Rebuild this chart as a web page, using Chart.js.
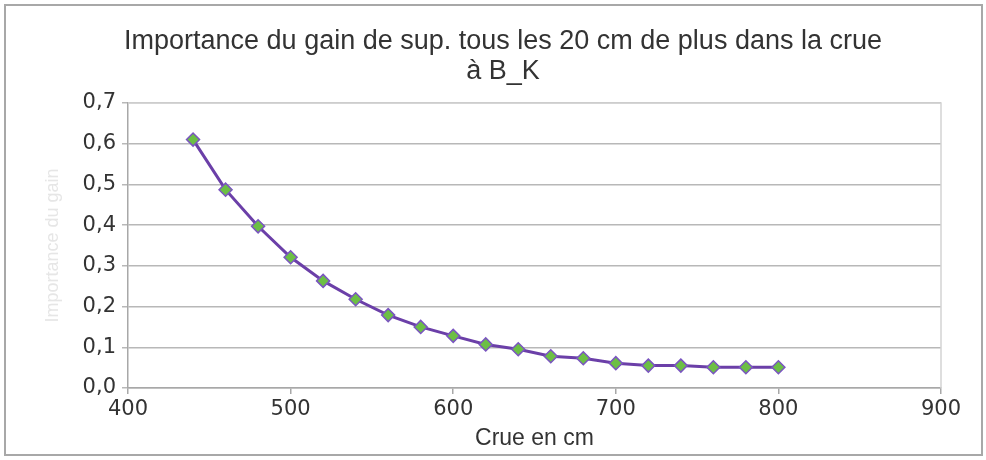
<!DOCTYPE html>
<html>
<head>
<meta charset="utf-8">
<script src="https://cdn.jsdelivr.net/npm/chart.js@4/dist/chart.umd.min.js"></script>
<style>
    html, body { margin: 0; padding: 0; background: #fff; }
    #wrap { width: 986px; height: 460px; position: relative; }
</style>
</head>
<body>
<div id="wrap"><canvas id="myChart" width="986" height="460"></canvas></div>
<script>
// crue (cm) et importance du gain
var crue = [440, 460, 480, 500, 520, 540, 560, 580, 600, 620, 640, 660, 680, 700, 720, 740, 760, 780, 800];
var gain = [0.61, 0.487, 0.397, 0.321, 0.263, 0.218, 0.179, 0.15, 0.128, 0.107, 0.095, 0.078, 0.073, 0.061, 0.055, 0.055, 0.051, 0.051, 0.051];

var titleLines = ['Importance du gain de sup. tous les 20 cm de plus dans la crue', 'à B_K'];
var xTitle = 'Crue en cm';
var yTitle = 'Importance du gain';

var points = [];
for (var i = 0; i < crue.length; i++) {
    points.push({ x: crue[i], y: gain[i] });
}

var frame = {
    id: 'frame',
    afterLayout: function(chart) {
        // titre un peu décalé à droite comme dans Excel
        if (chart.titleBlock) {
            chart.titleBlock.left += 23;
        }
    },
    beforeDraw: function(chart) {
        var c = chart.ctx;
        c.save();
        c.fillStyle = '#fff';
        c.fillRect(0, 0, chart.width, chart.height);
        c.strokeStyle = '#a8a8a8';
        c.lineWidth = 2;
        c.strokeRect(5, 5, 977, 450);
        c.restore();
    },
    beforeDatasetsDraw: function(chart) {
        var a = chart.chartArea;
        var c = chart.ctx;
        c.save();
        c.strokeStyle = '#d4d4d4';
        c.lineWidth = 1.5;
        c.beginPath();
        c.moveTo(a.left, a.top);
        c.lineTo(a.right, a.top);
        c.lineTo(a.right, a.bottom);
        c.stroke();
        c.restore();
    }
};

var ctx = document.getElementById('myChart').getContext('2d');
var myChart = new Chart(ctx, {
    type: 'line',
    data: {
        datasets: [{
            label: 'gain',
            data: points,
            borderColor: '#6b3fa8',
            borderWidth: 3,
            backgroundColor: '#6cbf45',
            pointStyle: 'rectRot',
            pointRadius: 6.5,
            pointBorderColor: '#7a55c0',
            pointBorderWidth: 1.5,
            pointBackgroundColor: '#6cbf45',
            tension: 0
        }]
    },
    plugins: [frame],
    options: {
        responsive: false,
        animation: false,
        layout: {
            padding: { left: 42, right: 45, top: 5, bottom: 8 }
        },
        scales: {
            x: {
                type: 'linear',
                min: 400,
                max: 900,
                ticks: {
                    stepSize: 100,
                    color: '#333',
                    font: { family: 'DejaVu Sans', size: 21 },
                    padding: 3
                },
                grid: {
                    drawOnChartArea: false,
                    color: '#a8a8a8',
                    tickLength: 6,
                    lineWidth: 1.5
                },
                border: { color: '#a8a8a8', width: 1.5 },
                title: {
                    display: true,
                    text: xTitle,
                    color: '#333',
                    font: { family: 'Liberation Sans', size: 23 },
                    padding: { top: 0, bottom: 0 }
                },
                afterFit: function(scale) {
                    scale.height = 64;
                }
            },
            y: {
                min: 0,
                max: 0.7,
                ticks: {
                    stepSize: 0.1,
                    color: '#333',
                    font: { family: 'DejaVu Sans', size: 21 },
                    padding: 6,
                    callback: function(v) {
                        return v.toFixed(1).replace('.', ',');
                    }
                },
                grid: {
                    color: '#b8b8b8',
                    lineWidth: 1.5,
                    tickLength: 6
                },
                border: { color: '#a8a8a8', width: 1.5 },
                title: {
                    display: true,
                    text: yTitle,
                    color: '#e6e6e6',
                    font: { family: 'Liberation Sans', size: 18 },
                    padding: { top: 0, bottom: 0 }
                },
                afterFit: function(scale) {
                    scale.width = 86;
                }
            }
        },
        plugins: {
            legend: { display: false },
            tooltip: { enabled: false },
            title: {
                display: true,
                text: titleLines,
                color: '#333',
                font: { family: 'Liberation Sans', size: 27, weight: 'normal', lineHeight: 1.11 },
                padding: { top: 22, bottom: 16 }
            }
        }
    }
});
</script>
</body>
</html>
